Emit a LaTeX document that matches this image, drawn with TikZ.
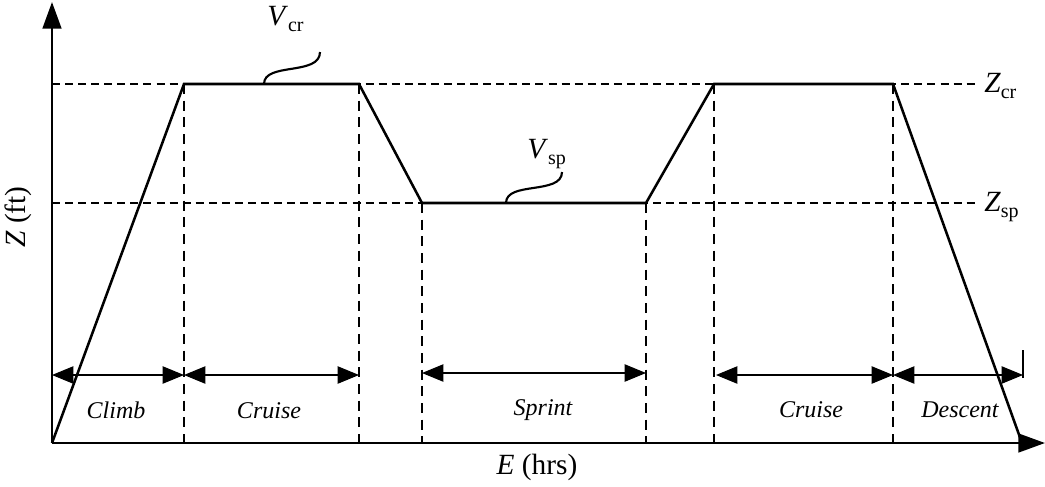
\documentclass[tikz,border=0pt]{standalone}
\usepackage{fontspec}
\setmainfont{Liberation Serif}
\usetikzlibrary{arrows.meta}
\newcommand\lowsub[1]{\raisebox{-0.45ex}{\fontsize{15}{15}\selectfont #1}}
\begin{document}
\begin{tikzpicture}[x=0.75pt,y=-0.75pt,
  axis/.style={line width=2pt,-{Triangle[length=20pt,width=14pt]}},
  prof/.style={line width=1.9pt,line join=miter},
  guide/.style={line width=1.6pt,dash pattern=on 6pt off 3.8pt},
  vguide/.style={line width=1.6pt,dash pattern=on 7.5pt off 5pt},
  dim/.style={line width=0.8pt,{Triangle[length=16pt,width=13pt]}-{Triangle[length=16pt,width=13pt]}},
  lab/.style={font=\fontsize{18}{20}\selectfont\itshape},
  big/.style={font=\fontsize{22}{24}\selectfont},
  lead/.style={line width=1.6pt}]
\useasboundingbox (0,0) rectangle (1045,486);
% coordinates
\coordinate (O) at (52,443);
\coordinate (Ytop) at (52,2);
\coordinate (Xend) at (1045,443);
\coordinate (A) at (184,84);
\coordinate (B) at (359,84);
\coordinate (C) at (422,203);
\coordinate (D) at (646,203);
\coordinate (E) at (714,84);
\coordinate (F) at (893,84);
\coordinate (G) at (1022,443);
\coordinate (Zc0) at (52,84);
\coordinate (Zc1) at (975,84);
\coordinate (Zs0) at (52,203);
\coordinate (Zs1) at (975,203);
\coordinate (Ab) at (184,443);
\coordinate (Bb) at (359,443);
\coordinate (Cb) at (422,443);
\coordinate (Db) at (646,443);
\coordinate (Eb) at (714,443);
\coordinate (Fb) at (893,443);
\coordinate (T0) at (1023,350);
\coordinate (T1) at (1023,378);
% guides
\draw[guide] (Zc0) -- (Zc1);
\draw[guide] (Zs0) -- (Zs1);
\foreach \p in {A,B,C,D,E,F} \draw[vguide] (\p) -- (\p b);
% axes
\draw[axis] (O) -- (Ytop);
\draw[axis] (O) -- (Xend);
% profile
\draw[prof] (O) -- (A) -- (B) -- (C) -- (D) -- (E) -- (F) -- (G);
% dimension arrows
\coordinate (d0) at (52,375);
\coordinate (d1) at (184,375);
\coordinate (d2) at (359,375);
\coordinate (d3) at (422,373);
\coordinate (d4) at (646,373);
\coordinate (d5) at (716,375);
\coordinate (d6) at (893,375);
\coordinate (d7) at (1023,375);
\draw[dim] (d0) -- (d1);
\draw[dim] (d1) -- (d2);
\draw[dim] (d3) -- (d4);
\draw[dim] (d5) -- (d6);
\draw[dim] (d6) -- (d7);
\draw[line width=0.9pt] (T0) -- (T1);
% phase labels
\node[lab] (climb) at (116,410) {Climb};
\node[lab] (cruise1) at (269,411) {Cruise};
\node[lab] (sprint) at (543,410) {Sprint};
\node[lab] (cruise2) at (811,410) {Cruise};
\node[lab] (descent) at (960,410) {Descent};
% leaders
\coordinate (vc0) at (264,84);
\coordinate (vc1) at (320,52);
\coordinate (vs0) at (506,203);
\coordinate (vs1) at (562,172);
\draw[lead] (vc0) .. controls (264,62) and (320,76) .. (vc1);
\draw[lead] (vs0) .. controls (506,181) and (562,195) .. (vs1);
% value labels
\node[big,anchor=base west,inner sep=0pt] (vcr) at (267,25) {\textit{V}\lowsub{cr}};
\node[big,anchor=base west,inner sep=0pt] (vsp) at (527,158) {\textit{V}\lowsub{sp}};
\node[big,anchor=base west,inner sep=0pt] (zcr) at (984,92) {\textit{Z}\lowsub{cr}};
\node[big,anchor=base west,inner sep=0pt] (zsp) at (984,211) {\textit{Z}\lowsub{sp}};
% axis labels
\node[big] (elab) at (537,467) {\textit{E} (hrs)};
\node[big,rotate=90] (zlab) at (18,217) {\textit{Z} (ft)};
\end{tikzpicture}
\end{document}
